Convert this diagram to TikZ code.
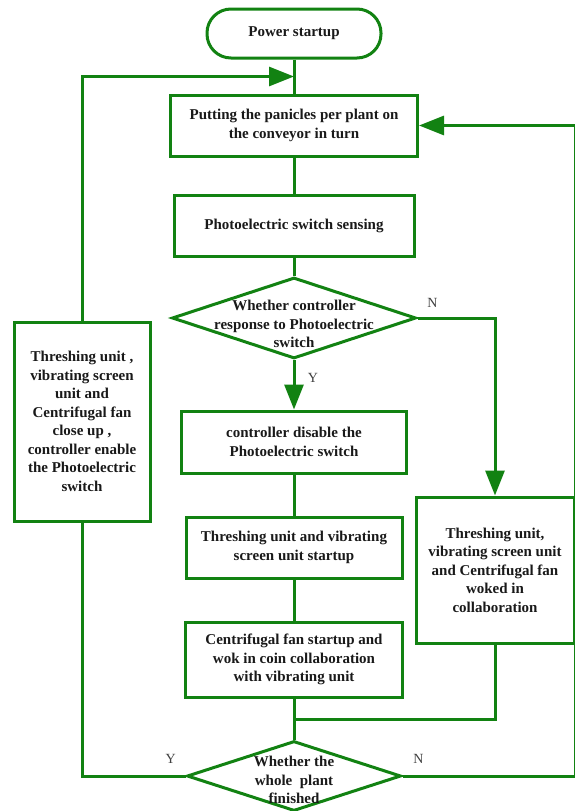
\documentclass[tikz,border=0pt]{standalone}
\usepackage{fontspec}
\setmainfont{Liberation Serif}
\usepackage{tikz}
\usetikzlibrary{arrows.meta,positioning,shapes.geometric}
\usepackage{xcolor}
\definecolor{flowgreen}{RGB}{18,130,18}

\begin{document}
\begin{tikzpicture}[>={Triangle[length=25pt,width=19pt]},node distance=2cm,on grid,
    every node/.style={font=\fontsize{15}{18.5}\selectfont\bfseries,text=black!90,align=center},
    mybox/.style={rectangle,draw=flowgreen,line width=3pt,inner sep=0pt},
    mydiamond/.style={diamond,draw=flowgreen,line width=3pt,inner sep=0pt},
    yn/.style={font=\fontsize{14}{16}\selectfont,text=black!75}]
          \useasboundingbox (0,0) rectangle (575pt,-811pt);
          \node[mybox,rounded corners=24pt,minimum width=174pt,minimum height=49pt] (A) at (294pt,-33.5pt) {Power startup};
          \node[mybox,minimum width=247pt,minimum height=61pt] (B) [below =92pt of A] {Putting the panicles per plant on\\the conveyor in turn};
          \node[mybox,minimum width=240pt,minimum height=61pt] (C) [below =100pt of B] {Photoelectric switch sensing};
          \node[mydiamond,minimum width=244pt,minimum height=81pt,
                label={[yshift=-6pt]center:Whether controller\\response to Photoelectric\\switch}] (D) [below =92.5pt of C] {};
          \node[mybox,minimum width=225pt,minimum height=62pt] (E) [below =124pt of D] {controller disable the\\Photoelectric switch};
          \node[mybox,minimum width=216pt,minimum height=61pt] (F) [below =105.5pt of E] {Threshing unit and vibrating\\screen unit startup};
          \node[mybox,minimum width=217pt,minimum height=75pt] (G) [below =112pt of F] {Centrifugal fan startup and\\wok in coin collaboration\\with vibrating unit};
          \node[mydiamond,minimum width=214pt,minimum height=70pt,
                label={[yshift=-4pt]center:Whether the\\whole~ plant\\finished}] (H) [below =116.5pt of G] {};
          \node[mybox,minimum width=158pt,minimum height=146pt] (I) [below right =22.5pt and 201pt of F] {Threshing unit,\\vibrating screen unit\\and Centrifugal fan\\woked in\\collaboration};
          \node[mybox,minimum width=136pt,minimum height=199pt] (J) [above left =20.5pt and 212pt of E] {Threshing unit ,\\vibrating screen\\unit and\\Centrifugal fan\\close up ,\\controller enable\\the Photoelectric\\switch};
          \tikzset{myline/.style={draw=flowgreen,line width=3pt}}
          \tikzset{myarrow/.style={myline,->}}
          \draw[myline] (A) -- coordinate (a1) (B);
          \draw[myline] (G) -- coordinate (a2) (H);
          \path (B)     edge [myline]    (C)
          (C)     edge [myline]    (D)
          (D)     edge [myarrow]   node[yn,anchor=west,pos=0.36,xshift=9pt] {Y} (E)
          (E)     edge [myline]    (F)
          (F)     edge [myline]    (G);
          \draw[myarrow] (D.east) node[yn,anchor=south west,xshift=5pt,yshift=6pt] {N} -| (I.north);
          \draw[myline] (I.south) |- (a2);
          \draw[myline] (H.west) node[yn,anchor=south east,xshift=-5pt,yshift=8pt] {Y} -| (J.south);
          \draw[myarrow] (J.north) |- (a1);
          \draw[myarrow] (H.east) node[yn,anchor=south west,xshift=6pt,yshift=8pt] {N} -- ++(173pt,0) |- (B.east);
        \end{tikzpicture}
\end{document}
